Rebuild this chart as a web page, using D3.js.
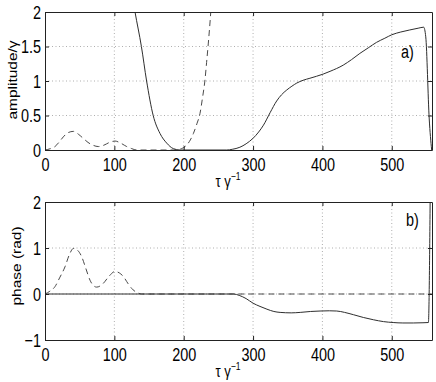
<!DOCTYPE html>
<html><head><meta charset="utf-8">
<script src="https://cdn.jsdelivr.net/npm/d3@7"></script>
<style>
html,body{margin:0;padding:0;background:#fff;}
svg{display:block;}
text{font-family:"Liberation Sans",Arial,Helvetica,sans-serif;fill:#000;}
</style></head>
<body>
<script>
// ---------- data ----------
const xTicks = [0, 100, 200, 300, 400, 500];
const ampTicks = [0, 0.5, 1, 1.5, 2];
const ampTickLabels = ["0", "0.5", "1", "1.5", "2"];
const phaseTicks = [-1, 0, 1, 2];
const phaseTickLabels = ["\u22121", "0", "1", "2"];

// top panel, solid curve (amplitude)
const ampSolidTau = [120,129.8,139,146.5,156,165.8,175.5,185,194.7,262,270,281,290,300,308,315,324.5,334,341,348.6,356,363,372,382,401,411,430,442,454,466,478,490,500,513,526,538,546,549,554,557.5];
const ampSolidVal = [2.6,2.0,1.5,1.0,0.5,0.24,0.10,0.02,0.0,0.0,0.01,0.04,0.09,0.17,0.26,0.36,0.54,0.71,0.80,0.87,0.925,0.97,1.01,1.04,1.10,1.14,1.23,1.31,1.40,1.48,1.56,1.62,1.67,1.71,1.74,1.765,1.78,1.64,0.45,0.0];

// top panel, dashed curve
const ampDashTau = [0,8,14.4,20,26.4,33,40.9,48,55,62,69,76.9,85,93,101,109,117.8,125,132,185,193,202,208,214,219,223.5,227,230.7,233,235.5,239,242];
const ampDashVal = [0.0,0.02,0.05,0.11,0.19,0.25,0.27,0.23,0.17,0.11,0.07,0.05,0.07,0.11,0.13,0.10,0.05,0.02,0.0,0.0,0.01,0.05,0.12,0.24,0.38,0.53,0.75,1.02,1.27,1.55,2.0,2.5];

// bottom panel, solid curve (phase)
const phaseSolidTau = [0,272,280,290,300,310,320,330,339,355,368,383,396.6,410,420.7,432,444.7,459,473.5,488,502,516,531,545,552.8,555.5];
const phaseSolidVal = [0,0,-0.03,-0.10,-0.20,-0.27,-0.33,-0.38,-0.40,-0.41,-0.40,-0.38,-0.37,-0.365,-0.37,-0.40,-0.45,-0.51,-0.56,-0.60,-0.62,-0.63,-0.63,-0.625,-0.62,2.3];

// bottom panel, dashed curve
const phaseDashTau = [0,7,14.4,21,28.8,35,40.9,47,52.9,59,64.9,70,74.5,79,84,92,101,107,113,120,127,133,139.4,558];
const phaseDashVal = [0,0.06,0.16,0.35,0.59,0.85,0.99,0.95,0.81,0.55,0.30,0.18,0.15,0.17,0.23,0.38,0.49,0.46,0.38,0.22,0.09,0.03,0,0];

// ---------- drawing ----------
const W = 436, H = 382;
const svg = d3.select("body").append("svg").attr("width", W).attr("height", H);
const SX = 0.76; // horizontal text compression of the original

const x = d3.scaleLinear().domain([0, 558]).range([45, 432]);

function panel(opts) {
  const y = d3.scaleLinear().domain(opts.yDomain).range([opts.bottom, opts.top]);
  const g = svg.append("g");
  const clipId = "clip" + opts.id;
  svg.append("clipPath").attr("id", clipId).append("rect")
    .attr("x", x.range()[0]).attr("y", opts.top)
    .attr("width", x.range()[1] - x.range()[0]).attr("height", opts.bottom - opts.top);

  // grid
  const grid = g.append("g").attr("stroke", "#9a9a9a").attr("stroke-width", 0.8).attr("stroke-dasharray", "1,2.5");
  grid.selectAll("line.gx").data(xTicks.filter(t => t > 0)).join("line")
    .attr("x1", d => x(d)).attr("x2", d => x(d)).attr("y1", opts.top).attr("y2", opts.bottom);
  grid.selectAll("line.gy").data(opts.yTicks.filter(t => t > opts.yDomain[0] && t < opts.yDomain[1])).join("line")
    .attr("y1", d => y(d)).attr("y2", d => y(d)).attr("x1", x.range()[0]).attr("x2", x.range()[1]);

  // curves
  const curves = g.append("g").attr("clip-path", `url(#${clipId})`);
  opts.series.forEach(s => {
    const pts = s.tau.map((t, i) => [t, s.val[i]]);
    const line = d3.line().x(d => x(d[0])).y(d => y(d[1])).curve(d3.curveMonotoneX);
    curves.append("path").attr("d", line(pts)).attr("fill", "none")
      .attr("stroke", s.dash ? "#4a4a4a" : "#2e2e2e").attr("stroke-width", 1)
      .attr("stroke-dasharray", s.dash ? "6,4" : null);
  });

  // axes
  const xb = g.append("g").attr("transform", `translate(0,${opts.bottom})`)
    .call(d3.axisBottom(x).tickValues(xTicks).tickSizeInner(-4).tickSizeOuter(0).tickPadding(8).tickFormat(d3.format("d")));
  const xt = g.append("g").attr("transform", `translate(0,${opts.top})`)
    .call(d3.axisTop(x).tickValues(xTicks).tickSizeInner(-4).tickSizeOuter(0).tickFormat(""));
  const yl = g.append("g").attr("transform", `translate(${x.range()[0]},0)`)
    .call(d3.axisLeft(y).tickValues(opts.yTicks).tickSizeInner(-4).tickSizeOuter(0).tickPadding(4)
      .tickFormat((d, i) => opts.yTickLabels[i]));
  const yr = g.append("g").attr("transform", `translate(${x.range()[1]},0)`)
    .call(d3.axisRight(y).tickValues(opts.yTicks).tickSizeInner(-4).tickSizeOuter(0).tickFormat(""));
  [xb, xt, yl, yr].forEach(a => {
    a.select(".domain").attr("stroke", "#222");
    a.selectAll(".tick line").attr("stroke", "#222");
  });
  [xb, yl].forEach(a => a.selectAll(".tick text")
    .attr("font-size", 19).attr("font-family", '"Liberation Sans",Arial,sans-serif').attr("fill", "#000"));
  xb.selectAll(".tick text").attr("transform", `scale(${SX},1)`);
  yl.selectAll(".tick text").attr("x", -4 / SX).attr("transform", `scale(${SX},1)`);

  // y label
  svg.append("text")
    .attr("transform", `translate(${opts.ylabX},${opts.ylabY}) scale(0.8,1) rotate(-90)`)
    .attr("text-anchor", "middle").attr("font-size", 15.5).text(opts.ylabel);

  // x label  τ γ^-1
  const xl = svg.append("text")
    .attr("transform", `translate(228,${opts.bottom + 37}) scale(0.82,1)`)
    .attr("text-anchor", "middle").attr("font-family", '"Liberation Serif","Times New Roman",serif').attr("font-size", 16);
  xl.append("tspan").text("\u03c4 \u03b3");
  xl.append("tspan").attr("font-size", 10.5).attr("dy", -7).attr("font-family", '"Liberation Sans",Arial,sans-serif').text("\u22121");

  // panel tag
  svg.append("text")
    .attr("transform", `translate(${opts.tagX},${opts.tagY}) scale(${SX},1)`)
    .attr("font-size", 19).text(opts.tag);
}

panel({
  id: "a", top: 12, bottom: 150, yDomain: [0, 2], yTicks: ampTicks, yTickLabels: ampTickLabels,
  ylabel: "amplitude/\u03b3", ylabX: 17, ylabY: 80, tag: "a)", tagX: 401, tagY: 58,
  series: [
    { tau: ampDashTau, val: ampDashVal, dash: true },
    { tau: ampSolidTau, val: ampSolidVal, dash: false }
  ]
});
panel({
  id: "b", top: 202, bottom: 340, yDomain: [-1, 2], yTicks: phaseTicks, yTickLabels: phaseTickLabels,
  ylabel: "phase (rad)", ylabX: 20.5, ylabY: 266, tag: "b)", tagX: 406, tagY: 226,
  series: [
    { tau: phaseDashTau, val: phaseDashVal, dash: true },
    { tau: phaseSolidTau, val: phaseSolidVal, dash: false }
  ]
});
</script>
</body></html>
